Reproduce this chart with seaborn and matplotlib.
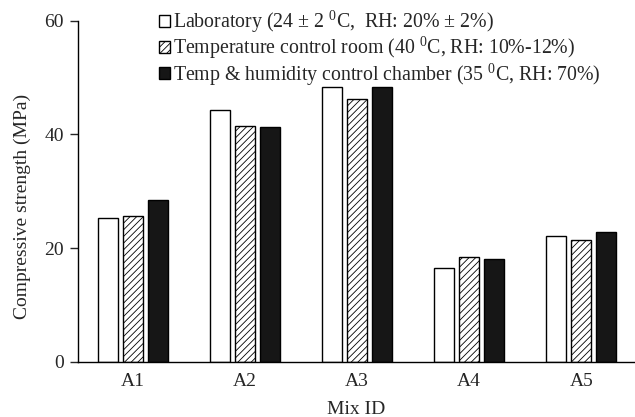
import matplotlib
matplotlib.use("Agg")
import matplotlib.pyplot as plt
import pandas as pd
import seaborn as sns
from matplotlib.patches import Patch

# Compressive strength (MPa) of each mix under three curing conditions
mixes = ["A1", "A2", "A3", "A4", "A5"]
laboratory = [25.3, 44.3, 48.3, 16.4, 22.1]
temp_room = [25.7, 41.5, 46.2, 18.4, 21.4]
chamber = [28.4, 41.3, 48.3, 18.1, 22.8]

conditions = [
    r"Laboratory (24 $\pm$ 2 $^{0}$C,  RH: 20% $\pm$ 2%)",
    r"Temperature control room (40 $^{0}$C, RH: 10%-12%)",
    r"Temp & humidity control chamber (35 $^{0}$C, RH: 70%)",
]
face_colors = ["white", "white", "#161616"]
hatches = ["", "/////", ""]
y_ticks = [0, 20, 40, 60]

sns.set_style("ticks")
plt.rcParams["font.family"] = ["Liberation Serif", "DejaVu Serif"]
plt.rcParams["mathtext.fontset"] = "custom"
plt.rcParams["mathtext.rm"] = "Liberation Serif"
plt.rcParams["mathtext.it"] = "Liberation Serif:italic"
plt.rcParams["hatch.linewidth"] = 0.6

rows = []
for series, name in zip([laboratory, temp_room, chamber], conditions):
    for mix, val in zip(mixes, series):
        rows.append({"Mix ID": mix, "strength": val, "condition": name})
df = pd.DataFrame(rows)

fig = plt.figure(figsize=(6.35, 4.17), dpi=100)
ax = fig.add_axes([0.1228, 0.1326, 0.8772, 0.8178])

sns.barplot(
    data=df, x="Mix ID", y="strength", hue="condition",
    hue_order=conditions, palette=face_colors, width=0.67,
    edgecolor="black", linewidth=1.0, saturation=1, legend=False, ax=ax,
)

bar_w = 0.18
for cont, hatch in zip(ax.containers, hatches):
    for bar in cont:
        cx = bar.get_x() + bar.get_width() / 2
        bar.set_width(bar_w)
        bar.set_x(cx - bar_w / 2)
        bar.set_hatch(hatch)

ax.set_xlim(-0.49, 4.48)
ax.set_ylim(0, 60)
ax.set_yticks(y_ticks)
ax.tick_params(axis="y", direction="out", length=6, width=1, labelsize=14, pad=4)
ax.tick_params(axis="x", length=0, labelsize=14, pad=8)
for side in ["top", "right"]:
    ax.spines[side].set_visible(False)
for side in ["left", "bottom"]:
    ax.spines[side].set_linewidth(1.0)
    ax.spines[side].set_color("black")

ax.set_xlabel("Mix ID", fontsize=14, labelpad=8)
ax.set_ylabel("Compressive strength (MPa)", fontsize=14, labelpad=10)
ax.yaxis.label.set_y(0.455)

handles = [
    Patch(facecolor=fc, edgecolor="black", hatch=h, linewidth=1.0)
    for fc, h in zip(face_colors, hatches)
]
fig.legend(
    handles, conditions, loc="upper left", bbox_to_anchor=(159 / 635, 1 - 9 / 417),
    frameon=False, fontsize=14.3, handlelength=0.55, handleheight=0.55,
    handletextpad=0.15, labelspacing=0.0, borderaxespad=0, borderpad=0,
)

fig.savefig("out.png", dpi=100)
